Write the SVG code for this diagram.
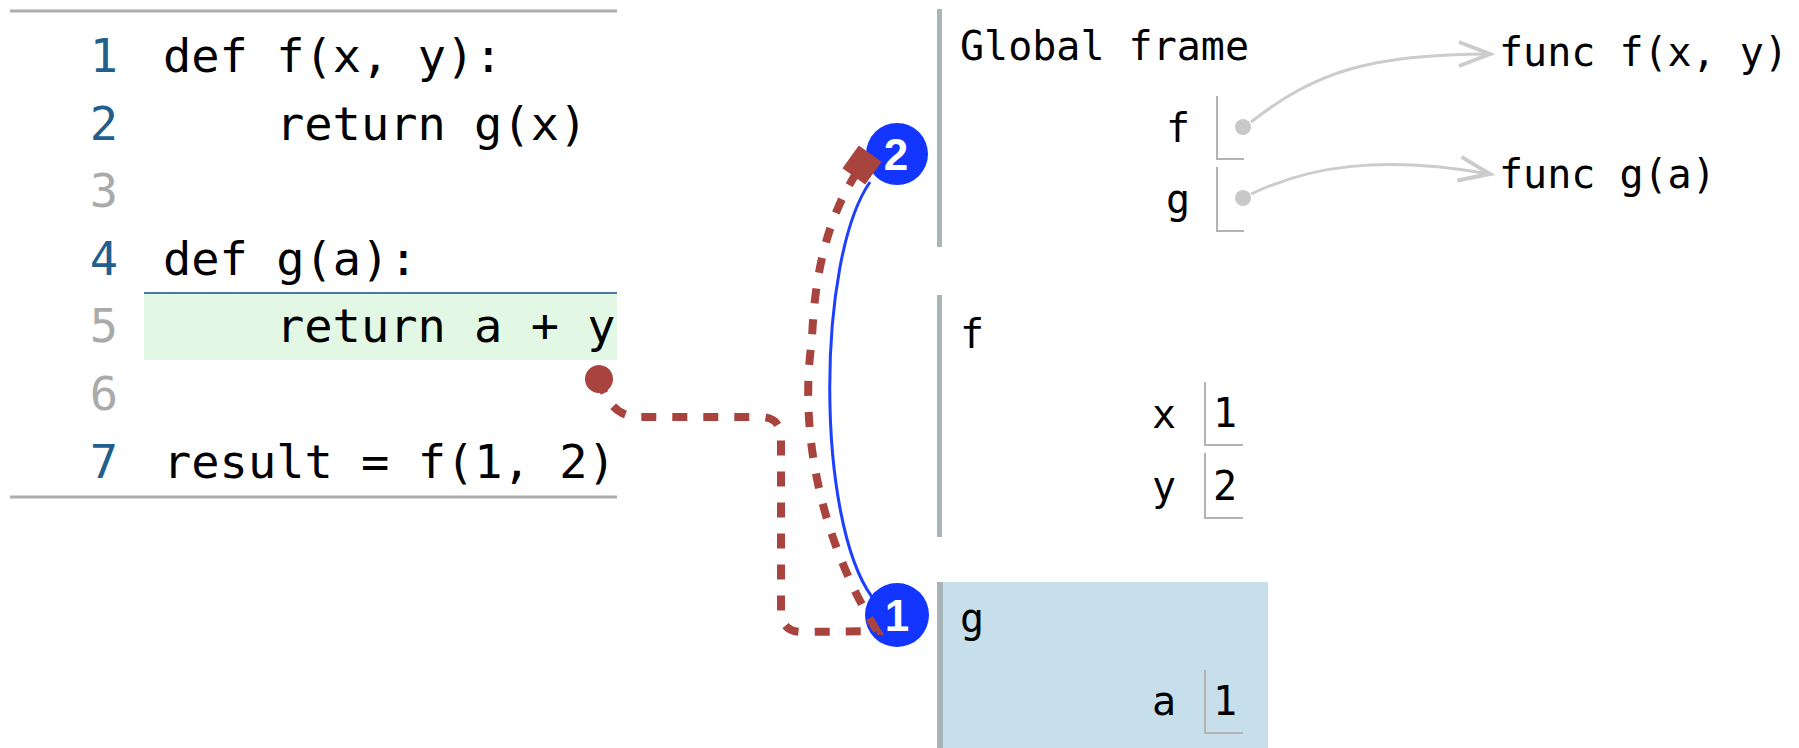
<svg xmlns="http://www.w3.org/2000/svg" width="1799" height="748" viewBox="0 0 1799 748">
<style>
.code{font-family:"DejaVu Sans Mono",monospace;font-size:47px;fill:#000}
.ln{font-family:"DejaVu Sans Mono",monospace;font-size:47px;text-anchor:middle}
.lnA{fill:#215f8e}
.lnI{fill:#aaaaaa}
.t{font-family:"DejaVu Sans Mono",monospace;font-size:40px;fill:#000}
.nm{text-anchor:end}
.rule{stroke:#adadad;stroke-width:3}
.bar{fill:#aab5b8}
.box{fill:none;stroke:#b3b3b3;stroke-width:2}
.ptr{fill:#c8c8c8}
.garr{fill:none;stroke:#cccccc;stroke-width:3;marker-end:url(#chev)}
.step{fill:#1236ff}
.stepn{font-family:"Liberation Sans",Arial,sans-serif;font-weight:bold;font-size:44px;fill:#fff;text-anchor:middle}
</style>
<defs>
<marker id="chev" markerUnits="userSpaceOnUse" markerWidth="40" markerHeight="30" refX="34" refY="15" orient="auto">
<path d="M3,3 L34,15 L3,27" fill="none" stroke="#cccccc" stroke-width="4"/>
</marker>
<marker id="dot" markerUnits="userSpaceOnUse" markerWidth="30" markerHeight="30" refX="15" refY="15" orient="auto">
<circle cx="15" cy="15" r="14" fill="#a8433d"/>
</marker>
<marker id="sq" markerUnits="userSpaceOnUse" markerWidth="32" markerHeight="32" refX="16" refY="16" orient="auto">
<rect x="2" y="2" width="28" height="28" fill="#a8433d"/>
</marker>
</defs>
<rect width="1799" height="748" fill="#fff"/>

<g id="code">
<line class="rule" x1="10" y1="11" x2="617" y2="11"/>
<line class="rule" x1="10" y1="497" x2="617" y2="497"/>
<rect x="144" y="293" width="473" height="67" fill="#e2f7e4"/>
<line x1="144" y1="293" x2="617" y2="293" stroke="#4a7aa5" stroke-width="2"/>
<text class="ln lnA" x="104" y="72">1</text>
<text class="ln lnA" x="104" y="140">2</text>
<text class="ln lnI" x="104" y="207">3</text>
<text class="ln lnA" x="104" y="275">4</text>
<text class="ln lnI" x="104" y="342">5</text>
<text class="ln lnI" x="104" y="410">6</text>
<text class="ln lnA" x="104" y="478">7</text>
<text class="code" x="163" y="72">def f(x, y):</text>
<text class="code" x="276" y="140">return g(x)</text>
<text class="code" x="163" y="275">def g(a):</text>
<text class="code" x="276" y="342">return a + y</text>
<text class="code" x="163" y="478">result = f(1, 2)</text>
</g>

<g id="global-frame">
<rect class="bar" x="937" y="9" width="5" height="238"/>
<text class="t" x="960" y="60">Global frame</text>
<text class="t nm" x="1190" y="142">f</text>
<path class="box" d="M1217,96 V159 H1244"/>
<circle class="ptr" cx="1243" cy="127" r="8"/>
<text class="t nm" x="1190" y="213">g</text>
<path class="box" d="M1217,167 V231 H1244"/>
<circle class="ptr" cx="1243" cy="198" r="8"/>
</g>

<g id="func-f">
<text class="t" x="1499" y="66">func f(x, y)</text>
</g>
<g id="func-g">
<text class="t" x="1499" y="188">func g(a)</text>
</g>

<g id="frame-f">
<rect class="bar" x="937" y="295" width="5" height="242"/>
<text class="t" x="960" y="348">f</text>
<text class="t nm" x="1176" y="428">x</text>
<path class="box" d="M1205,382 V445 H1243"/>
<text class="t" x="1213" y="427">1</text>
<text class="t nm" x="1176" y="500">y</text>
<path class="box" d="M1205,453 V518 H1243"/>
<text class="t" x="1213" y="500">2</text>
</g>

<g id="frame-g">
<rect x="937" y="582" width="331" height="166" fill="#c6dfea"/>
<rect x="937" y="582" width="6" height="166" fill="#a6b3b8"/>
<text class="t" x="960" y="632">g</text>
<text class="t nm" x="1176" y="715">a</text>
<path class="box" d="M1205,670 V733 H1243"/>
<text class="t" x="1213" y="715">1</text>
</g>

<g id="connectors">
<path class="garr" d="M1251,122 C1315,72 1370,54 1490,54"/>
<path class="garr" d="M1251,194 C1310,166 1380,155 1490,174"/>
<path d="M872,597 C816,520 816,260 870,182" fill="none" stroke="#1f3fff" stroke-width="3"/>
</g>

<g id="step-1">
<circle class="step" cx="897" cy="615" r="32"/>
<text class="stepn" x="897" y="631">1</text>
</g>
<g id="step-2">
<circle class="step" cx="897" cy="154" r="31"/>
<text class="stepn" x="896" y="170">2</text>
</g>

<g id="error-path">
<path d="M599,379 C606,400 615,417 640,417 L760,417 Q781,417 781,438 L781,610 Q781,632 802,632 L877,631 C815,530 800,420 812,340 C814,280 826,215 862,165" fill="none" stroke="#a8433d" stroke-width="8" stroke-dasharray="15 16" marker-start="url(#dot)" marker-end="url(#sq)"/>
</g>
</svg>
